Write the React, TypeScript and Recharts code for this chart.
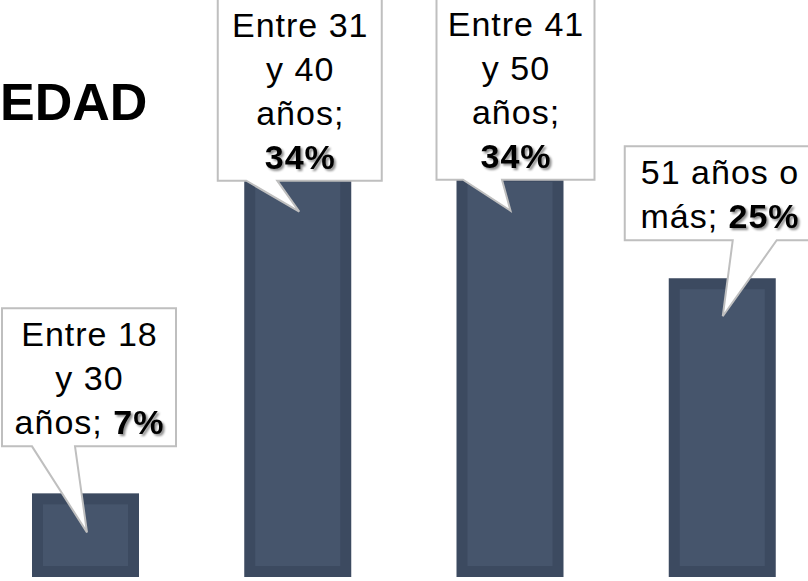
import React from 'react';
import { BarChart, Bar, XAxis, YAxis, LabelList } from 'recharts';

const CATEGORIES = ['Entre 18 y 30 años', 'Entre 31 y 40 años', 'Entre 41 y 50 años', '51 años o más'];
const VALUES = [7, 34, 34, 25];

const data = CATEGORIES.map((name, i) => ({ name, value: VALUES[i] }));

const FONT = '"Liberation Sans", Arial, sans-serif';
const FONT_SIZE = 34;
const SPACING = 1;
const LINE_H = 44;

// callout placement, relative to bar center (x) and bar top (y)
const CALLOUTS = [
  { left: -83.5, right: 90.5, gapBottom: -47, tipDx: 1.5, tipDy: 39, base: [-53.5, -10.5], maxChars: 8 },
  { left: -80, right: 84, gapBottom: 10, tipDx: 1.5, tipDy: 41, base: [-51.5, -20.5], maxChars: 8 },
  { left: -73.5, right: 84.5, gapBottom: 9, tipDx: 0.5, tipDy: 40, base: [-47, -8], maxChars: 8 },
  { left: -97.5, right: 92, gapBottom: -38, tipDx: 0.5, tipDy: 38, base: [10.5, 54.5], maxChars: 9 },
];

let ctx: CanvasRenderingContext2D | null = null;
const measure = (s: string, bold: boolean) => {
  if (!ctx) ctx = document.createElement('canvas').getContext('2d');
  if (!ctx) return s.length * FONT_SIZE * 0.55;
  ctx.font = `${bold ? 'bold ' : ''}${FONT_SIZE}px "Liberation Sans", Arial, sans-serif`;
  return ctx.measureText(s).width + s.length * SPACING;
};

// greedy word wrap; each word keeps a flag for the bold value part
const wrap = (name: string, value: number, maxChars: number) => {
  const words = [...`${name};`.split(' ').map(w => ({ w, b: false })), { w: `${value}%`, b: true }];
  const lines: { w: string; b: boolean }[][] = [];
  let cur: { w: string; b: boolean }[] = [];
  let len = 0;
  words.forEach(word => {
    const add = cur.length ? len + 1 + word.w.length : word.w.length;
    if (cur.length && add > maxChars) {
      lines.push(cur);
      cur = [word];
      len = word.w.length;
    } else {
      cur.push(word);
      len = add;
    }
  });
  if (cur.length) lines.push(cur);
  return lines;
};

const BarShape = (props: any) => {
  const { x, y, width, height } = props;
  const inset = 11;
  return (
    <g>
      <rect x={x} y={y} width={width} height={height} fill="#3C4A60" />
      {height > inset * 2 && (
        <rect x={x + inset} y={y + inset} width={width - inset * 2} height={height - inset * 2} fill="#46556C" />
      )}
    </g>
  );
};

const Callout = (props: any) => {
  const { x, y, width, index } = props;
  const c = CALLOUTS[index];
  const cx = x + width / 2;
  const lines = wrap(CATEGORIES[index], VALUES[index], c.maxChars);
  const bottom = y + c.gapBottom;
  const top = bottom - (lines.length * LINE_H + 6);
  const l = cx + c.left;
  const r = cx + c.right;
  const b1 = cx + c.base[0];
  const b2 = cx + c.base[1];
  const tx = cx + c.tipDx;
  const ty = y + c.tipDy;
  const path = `M${l},${top} L${r},${top} L${r},${bottom} L${b2},${bottom} L${tx},${ty} L${b1},${bottom} L${l},${bottom} Z`;
  const mid = (l + r) / 2;
  const lastBase = bottom - 12;

  const textProps = {
    fontFamily: FONT,
    fontSize: FONT_SIZE,
    letterSpacing: SPACING,
    style: { whiteSpace: 'pre' as const },
  };

  return (
    <g>
      <path d={path} fill="#fff" stroke="#BFBFBF" strokeWidth={2} strokeLinejoin="miter" />
      {lines.map((line, i) => {
        const by = lastBase - (lines.length - 1 - i) * LINE_H;
        const reg = line.filter(w => !w.b).map(w => w.w).join(' ');
        const bold = line.filter(w => w.b).map(w => w.w).join(' ');
        const regStr = reg && bold ? reg + ' ' : reg;
        const regW = regStr ? measure(regStr, false) : 0;
        const boldW = bold ? measure(bold, true) : 0;
        const start = mid - (regW + boldW - SPACING) / 2;
        return (
          <g key={i}>
            {reg && (
              <text x={start} y={by} {...textProps} fill="#000">
                {regStr}
              </text>
            )}
            {bold && (
              <text x={start + regW} y={by} {...textProps} fontWeight="bold" fill="#000" filter="url(#valShadow)">
                {bold}
              </text>
            )}
          </g>
        );
      })}
    </g>
  );
};

export default function App() {
  return (
    <div style={{ position: 'absolute', left: 0, top: 0, width: 808, height: 581, overflow: 'hidden', background: '#fff' }}>
      <svg width={0} height={0} style={{ position: 'absolute' }}>
        <defs>
          <filter id="valShadow" x="-20%" y="-20%" width="150%" height="150%">
            <feDropShadow dx="2" dy="2" stdDeviation="1.3" floodColor="#000" floodOpacity="0.45" />
          </filter>
        </defs>
      </svg>
      <svg width={808} height={581} style={{ position: 'absolute', left: 0, top: 0 }}>
        <text x={0} y={120} fontFamily={FONT} fontSize={52} fontWeight="bold" fill="#000">
          EDAD
        </text>
      </svg>
      <BarChart
        width={849}
        height={581}
        data={data}
        margin={{ top: 99, right: 0, bottom: 4, left: 0 }}
        style={{ position: 'absolute', left: -21, top: 0 }}
      >
        <XAxis dataKey="name" hide />
        <YAxis domain={[0, 40]} hide />
        <Bar dataKey="value" barSize={107} shape={<BarShape />} isAnimationActive={false}>
          <LabelList dataKey="value" content={<Callout />} />
        </Bar>
      </BarChart>
    </div>
  );
}
